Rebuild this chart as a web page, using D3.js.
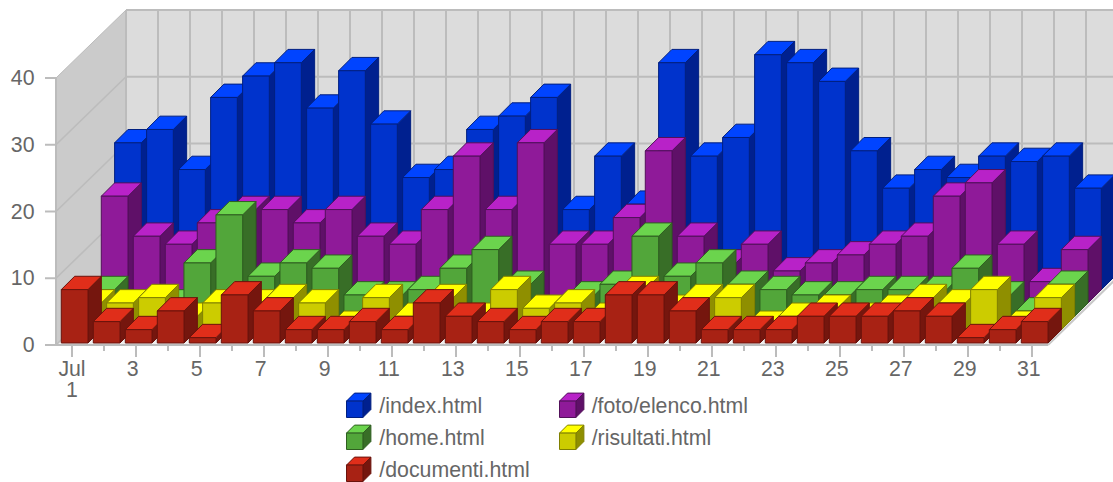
<!DOCTYPE html>
<html><head><meta charset="utf-8">
<script src="https://cdn.jsdelivr.net/npm/d3@7"></script>
<style>html,body{margin:0;padding:0;background:#fff;overflow:hidden}svg{display:block}text{font-family:"Liberation Sans",Arial,sans-serif;fill:#666}</style>
</head><body><svg id="c" width="1113" height="482"></svg>
<script>
const categories = d3.range(1, 32);
const tickLabels = ["Jul","3","5","7","9","11","13","15","17","19","21","23","25","27","29","31"];
const yTicks = [0,10,20,30,40];
const documenti = [8,3.2,2,4.8,0.8,7.2,4.8,2,2,3.2,2,6,4,3.2,2,3.2,3.2,7.2,7.2,4.8,2,2,2,4,4,4,4.8,4,0.8,2,3.2];
const risultati = [4,4,4.8,2,4,4,4.8,4,0.8,4.8,2,4.8,2,6,3.2,4,2,6,3.2,4.8,4.8,0.8,2,3.2,2,3.2,4.8,4,6,0.8,4.8];
const home = [4,1.6,2,8,15.2,6,8,7.2,3.2,3.2,4,7.2,10,4.8,1,3.2,4.8,12,6,8,4.8,4,3.2,3.2,4,4,4,7.2,3.2,0.8,4.8];
const foto = [16,10,8.8,12,14,14,12,14,10,8.8,14,22,14,24,8.8,8.8,12.8,22.8,10,6,8.8,4.8,6,7.2,8.8,10,16,18,8.8,3.2,8];
const indexHtml = [22,24,18,28.8,32,34,27.2,32.8,24.8,16.8,18,24,26,28.8,12,20,12.8,34,20,22.8,35.2,34,31.2,20.8,15.2,18,16.8,20,19.2,20,15.2];
const seriesNames = ["/documenti.html","/risultati.html","/home.html","/foto/elenco.html","/index.html"];
const seriesValues = [documenti, risultati, home, foto, indexHtml];
const palette = [
 {f:"#a82214",t:"#e02e1a",s:"#75160e",e:"#6b130c"},
 {f:"#cccc00",t:"#ffff00",s:"#8f8f00",e:"#808000"},
 {f:"#52a63a",t:"#6bd44d",s:"#386e27",e:"#2f5f20"},
 {f:"#8f1a99",t:"#b822c8",s:"#5f1068",e:"#52105a"},
 {f:"#0033cc",t:"#0044ff",s:"#00208f",e:"#001f80"}];

const svg = d3.select("#c");
const x = d3.scaleLinear().domain([0,31]).range([56,1048]);
const y = d3.scaleLinear().domain([0,40]).range([345,78]);
const depthX = 70, depthY = 68;
const grid = "#bcbcbc";
const pts = a => a.map(p=>p.join(",")).join(" ");

// walls and floor
svg.append("polygon").attr("points",pts([[x(0),y(0)],[x(31),y(0)],[x(31)+depthX,y(0)-depthY],[x(0)+depthX,y(0)-depthY]])).attr("fill","#efefef");
svg.append("polygon").attr("points",pts([[x(0),y(40)],[x(0)+depthX,y(40)-depthY],[x(0)+depthX,y(0)-depthY],[x(0),y(0)]])).attr("fill","#cbcbcb");
svg.append("rect").attr("x",x(0)+depthX).attr("y",y(40)-depthY).attr("width",x(31)-x(0)).attr("height",y(0)-y(40)).attr("fill","#dcdcdc");
// grid
svg.append("g").selectAll("line").data(d3.range(0,32)).join("line")
 .attr("x1",d=>x(d)+depthX).attr("x2",d=>x(d)+depthX)
 .attr("y1",y(40)-depthY).attr("y2",y(0)-depthY).attr("stroke",grid).attr("stroke-width",2);
yTicks.forEach(v=>{
 svg.append("line").attr("x1",x(0)+depthX).attr("x2",x(31)+depthX).attr("y1",y(v)-depthY).attr("y2",y(v)-depthY).attr("stroke",grid).attr("stroke-width",2);
 svg.append("line").attr("x1",x(0)).attr("x2",x(0)+depthX).attr("y1",y(v)).attr("y2",y(v)-depthY).attr("stroke",grid).attr("stroke-width",v==40?1:1.6);
 svg.append("line").attr("x1",45).attr("x2",x(0)).attr("y1",y(v)).attr("y2",y(v)).attr("stroke",grid).attr("stroke-width",2);
 svg.append("text").attr("x",34.5).attr("y",y(v)+7).attr("text-anchor","end").style("font-size","21.3px").text(v);
});
svg.append("line").attr("x1",x(0)).attr("x2",x(0)).attr("y1",y(40)).attr("y2",y(0)).attr("stroke",grid).attr("stroke-width",2);
svg.append("line").attr("x1",x(0)).attr("x2",x(31)).attr("y1",y(0)).attr("y2",y(0)).attr("stroke",grid).attr("stroke-width",2);
svg.append("line").attr("x1",x(31)).attr("x2",x(31)+depthX).attr("y1",y(0)).attr("y2",y(0)-depthY).attr("stroke","#c8c8c8").attr("stroke-width",2);

// x axis
categories.forEach((c,i)=>{
 const major = i%2===0;
 svg.append("line").attr("x1",x(i+0.5)).attr("x2",x(i+0.5)).attr("y1",346).attr("y2",major?357:351).attr("stroke",grid).attr("stroke-width",2);
});
tickLabels.forEach((t,k)=>{
 const i = k*2;
 svg.append("text").attr("x",x(i+0.5)-(k?3.2:0)).attr("y",376).attr("text-anchor","middle").style("font-size","21.3px").text(t);
});
svg.append("text").attr("x",x(0.5)).attr("y",397).attr("text-anchor","middle").style("font-size","21.3px").text("1");

// bars
function cube(g,x0,yb,w,h,dx,dy,c,sw){
 const e = {stroke:c.e,"stroke-width":sw,"stroke-linejoin":"round"};
 const add=(p,fill)=>{const s=g.append("polygon").attr("points",pts(p)).attr("fill",fill);Object.entries(e).forEach(([k,v])=>s.attr(k,v));};
 add([[x0+w,yb],[x0+w+dx,yb-dy],[x0+w+dx,yb-h-dy],[x0+w,yb-h]],c.s);
 add([[x0,yb-h],[x0+w,yb-h],[x0+w+dx,yb-h-dy],[x0+dx,yb-h-dy]],c.t);
 add([[x0,yb],[x0+w,yb],[x0+w,yb-h],[x0,yb-h]],c.f);
}
const stepD = 13.33, barW = 26.7, inset = 5.3, baseY = 343;
const layer = svg.append("g");
for(let s=seriesValues.length-1;s>=0;s--){
 seriesValues[s].forEach((v,i)=>{
  cube(layer,x(i)+inset+s*stepD,baseY-s*stepD,barW,y(0)-y(v),stepD,stepD,palette[s],1);
 });
}

// legend
const legendCols = [346.5,559.5], legendTextX=[379.3,591.7], legendRows=[417.5,449.5,481.5];
const legendPlace = [[0,2],[1,1],[0,1],[1,0],[0,0]];
seriesNames.forEach((n,s)=>{
 const [cl,r]=legendPlace[s];
 cube(svg.append("g"),legendCols[cl],legendRows[r],16.4,16.4,8,8,palette[s],1);
 svg.append("text").attr("x",legendTextX[cl]).attr("y",legendRows[r]-4.5).style("font-size","21.3px").text(n);
});
</script></body></html>
